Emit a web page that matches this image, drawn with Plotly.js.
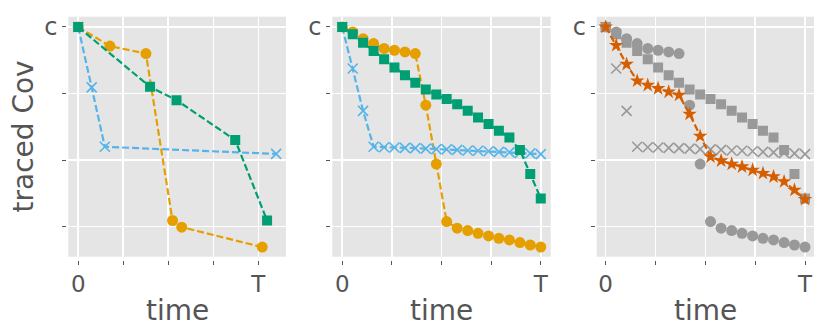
<!DOCTYPE html>
<html>
<head>
<meta charset="utf-8">
<script src="https://cdn.plot.ly/plotly-3.0.1.min.js"></script>
<style>html,body{margin:0;padding:0;background:#fff;}#chart{width:831px;height:336px;}</style>
</head>
<body>
<div id="chart"></div>
<script>
// ---- tick labels ----
const xTickVals = [0, 0.25, 0.5, 0.75, 1];
const xTickText = ['0', '', '', '', 'T'];
const yTickVals = [0.25, 0.5, 0.75, 1];
const yTickText = ['', '', '', 'c'];
const xTitle = 'time';
const yTitle = 'traced Cov';

// ---- panel 1 ----
const p1OrangeX = [0, 0.176, 0.376, 0.524, 0.575, 1.022];
const p1OrangeY = [1, 0.928, 0.900, 0.273, 0.248, 0.173];
const p1BlueX = [0, 0.075, 0.148, 1.099];
const p1BlueY = [1, 0.773, 0.550, 0.523];
const p1GreenX = [0, 0.399, 0.546, 0.872, 1.049];
const p1GreenY = [1, 0.775, 0.725, 0.575, 0.273];

// ---- panel 2 (and gray copies in panel 3) ----
const p2X = [0, 0.053, 0.105, 0.158, 0.211, 0.263, 0.316, 0.368, 0.421, 0.474,
             0.526, 0.579, 0.632, 0.684, 0.737, 0.789, 0.842, 0.895, 0.947, 1];
const p2OrangeY = [1, 0.981, 0.956, 0.9375, 0.919, 0.9125, 0.906, 0.900, 0.706, 0.485,
                   0.269, 0.244, 0.235, 0.225, 0.215, 0.206, 0.200, 0.190, 0.181, 0.173];
const p2BlueY = [1, 0.844, 0.685, 0.550, 0.548, 0.547, 0.546, 0.545, 0.543, 0.541,
                 0.540, 0.538, 0.536, 0.535, 0.533, 0.531, 0.529, 0.527, 0.525, 0.5225];
const p2GreenY = [1, 0.9725, 0.941, 0.910, 0.879, 0.8475, 0.819, 0.790, 0.765, 0.746,
                  0.729, 0.710, 0.685, 0.660, 0.635, 0.610, 0.585, 0.5375, 0.4475, 0.356];

// ---- panel 3 ----
const p3StarY = [1, 0.931, 0.860, 0.7975, 0.781, 0.769, 0.756, 0.744, 0.6725, 0.590,
                 0.5125, 0.4975, 0.485, 0.475, 0.4625, 0.450, 0.4375, 0.419, 0.3875, 0.3525];

const ORANGE = '#E69F00', BLUE = '#56B4E9', GREEN = '#009E73', VERM = '#D55E00', GRAY = '#999999';
const DASH = '7px,3px';
const FONT = 'DejaVu Sans, sans-serif';
const TXT = '#555555';

function lineTrace(x, y, color, symbol, size, xa, ya) {
  const isX = symbol === 'x-thin';
  return {
    x: x, y: y, xaxis: xa, yaxis: ya, type: 'scatter', mode: 'lines+markers',
    line: {color: color, width: 2.2, dash: DASH},
    marker: {color: color, symbol: symbol, size: size,
             line: isX ? {color: color, width: 1.6} : {width: 0}},
    showlegend: false, hoverinfo: 'skip'
  };
}
function dotTrace(x, y, color, symbol, size, xa, ya) {
  const isX = symbol === 'x-thin';
  return {
    x: x, y: y, xaxis: xa, yaxis: ya, type: 'scatter', mode: 'markers',
    marker: {color: color, symbol: symbol, size: size,
             line: isX ? {color: color, width: 1.6} : {width: 0}},
    showlegend: false, hoverinfo: 'skip'
  };
}

const data = [
  lineTrace(p1OrangeX, p1OrangeY, ORANGE, 'circle', 11, 'x', 'y'),
  lineTrace(p1BlueX, p1BlueY, BLUE, 'x-thin', 10, 'x', 'y'),
  lineTrace(p1GreenX, p1GreenY, GREEN, 'square', 10, 'x', 'y'),

  lineTrace(p2X, p2OrangeY, ORANGE, 'circle', 11, 'x2', 'y2'),
  lineTrace(p2X, p2BlueY, BLUE, 'x-thin', 10, 'x2', 'y2'),
  lineTrace(p2X, p2GreenY, GREEN, 'square', 10, 'x2', 'y2'),

  dotTrace(p2X, p2OrangeY, GRAY, 'circle', 11, 'x3', 'y3'),
  dotTrace(p2X, p2BlueY, GRAY, 'x-thin', 10, 'x3', 'y3'),
  dotTrace(p2X, p2GreenY, GRAY, 'square', 10, 'x3', 'y3'),
  lineTrace(p2X, p3StarY, VERM, 'star', 11, 'x3', 'y3')
];

const W = 831, H = 336;
const xDom = [[68.3 / W, 286 / W], [332.3 / W, 550.7 / W], [596.7 / W, 814 / W]];
const yDom = [1 - 256.7 / H, 1 - 16.7 / H];
const xRanges = [[-0.055, 1.154], [-0.05, 1.05], [-0.045, 1.045]];
const yRange = [0.137, 1.0385];

function xAxis(i) {
  return {
    domain: xDom[i], range: xRanges[i], anchor: 'free', position: yDom[0] - 3 / H,
    tickmode: 'array', tickvals: xTickVals, ticktext: xTickText,
    ticks: 'outside', ticklen: 4, tickwidth: 1, tickcolor: TXT,
    showgrid: true, gridcolor: '#ffffff', gridwidth: 1.5,
    zeroline: false, showline: false,
    tickfont: {family: FONT, size: 23, color: TXT}, fixedrange: true
  };
}
function yAxis(i) {
  return {
    domain: yDom, range: yRange, anchor: 'free', position: xDom[i][0] - 2 / W,
    tickmode: 'array', tickvals: yTickVals, ticktext: yTickText,
    ticks: 'outside', ticklen: 4, tickwidth: 1, tickcolor: TXT,
    showgrid: true, gridcolor: '#ffffff', gridwidth: 1.5,
    zeroline: false, showline: false,
    tickfont: {family: FONT, size: 24, color: TXT}, fixedrange: true
  };
}

const annotations = [
  {text: yTitle, xref: 'paper', yref: 'paper', x: 22.5 / W, y: 1 - 137 / H,
   xanchor: 'center', yanchor: 'middle', textangle: -90, showarrow: false,
   font: {family: FONT, size: 28, color: TXT}}
];
for (let i = 0; i < 3; i++) {
  annotations.push({text: xTitle, xref: 'paper', yref: 'paper',
    x: (xDom[i][0] + xDom[i][1]) / 2, y: 1 - 310 / H,
    xanchor: 'center', yanchor: 'middle', showarrow: false,
    font: {family: FONT, size: 28, color: TXT}});
}

const layout = {
  width: W, height: H, margin: {l: 0, r: 0, t: 0, b: 0},
  paper_bgcolor: '#ffffff', plot_bgcolor: '#E5E5E5',
  xaxis: xAxis(0), xaxis2: xAxis(1), xaxis3: xAxis(2),
  yaxis: yAxis(0), yaxis2: yAxis(1), yaxis3: yAxis(2),
  annotations: annotations, showlegend: false,
  font: {family: FONT, color: TXT}
};

Plotly.newPlot('chart', data, layout, {displayModeBar: false, staticPlot: true});
</script>
</body>
</html>
